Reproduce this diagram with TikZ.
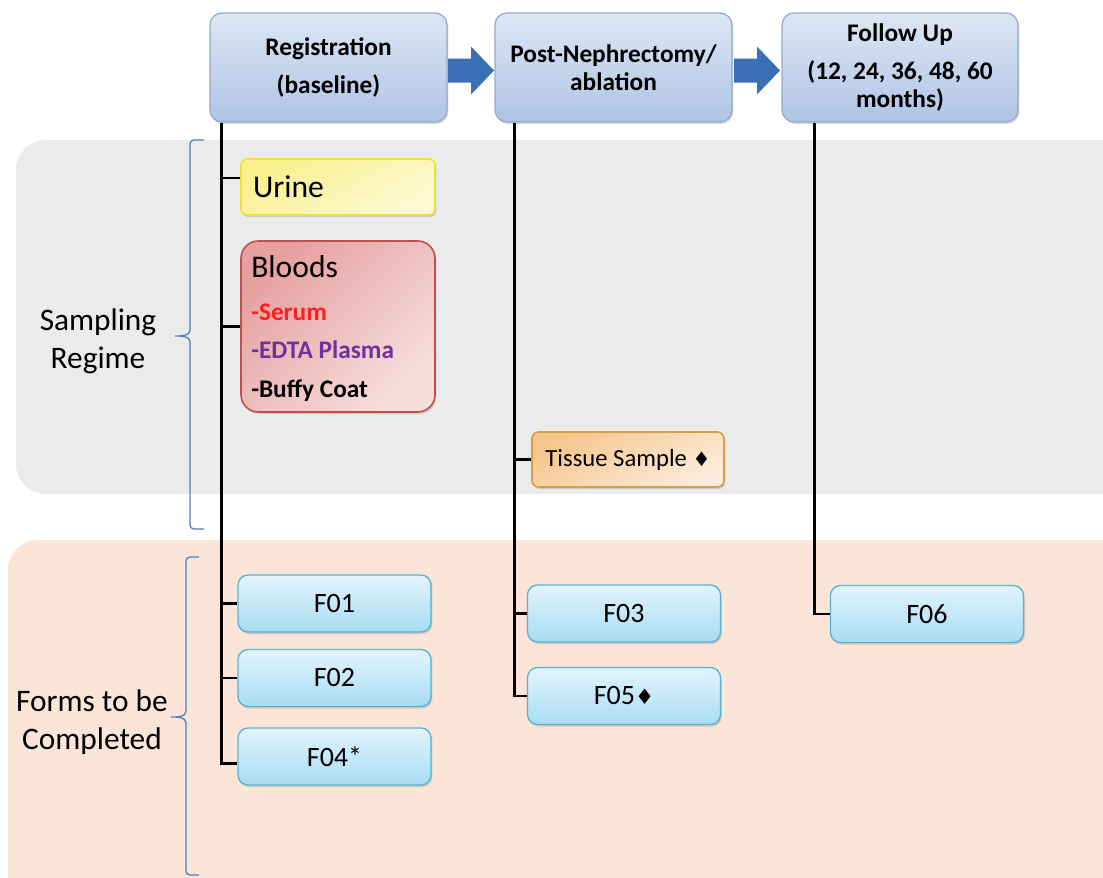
\documentclass[tikz,border=0pt]{standalone}
\usepackage{fontspec}
\setmainfont{Carlito}
\newfontfamily\symfont{DejaVu Sans}
\usetikzlibrary{calc,shadows}
\definecolor{bggray}{HTML}{EBEBEB}
\definecolor{bgpeach}{HTML}{FBE5D8}
\definecolor{hdA}{HTML}{DDE7F4}
\definecolor{hdB}{HTML}{AFC4E4}
\definecolor{hdline}{HTML}{95A8C8}
\definecolor{arrowA}{HTML}{3A6FB6}
\definecolor{urA}{HTML}{F9F08E}
\definecolor{urB}{HTML}{FCF9D2}
\definecolor{urline}{HTML}{F0E030}
\definecolor{blA}{HTML}{E7A0A0}
\definecolor{blB}{HTML}{F6DEDE}
\definecolor{blline}{HTML}{C0504D}
\definecolor{tsA}{HTML}{F6C68E}
\definecolor{tsB}{HTML}{FCEBDA}
\definecolor{tsline}{HTML}{D4A040}
\definecolor{fmA}{HTML}{E3F4FC}
\definecolor{fmB}{HTML}{A8DCF2}
\definecolor{fmline}{HTML}{5AB3CE}
\definecolor{serumred}{HTML}{FF1F1F}
\definecolor{edtapurple}{HTML}{7030A0}
\definecolor{bracecol}{HTML}{4F81BD}
\begin{document}
\begin{tikzpicture}[x=0.75pt,y=-0.75pt,
  shadow/.style={drop shadow={shadow xshift=1pt,shadow yshift=-1.5pt,opacity=.3}},
  header/.style={shadow,draw=hdline,line width=0.9pt,rounded corners=9pt,
    top color=hdA,bottom color=hdB,minimum width=237*0.75pt,minimum height=109*0.75pt,
    align=center,font=\bfseries\fontsize{19}{21}\selectfont},
  formbox/.style={shadow,draw=fmline,line width=1pt,rounded corners=7.5pt,
    top color=fmA,bottom color=fmB,minimum width=193*0.75pt,minimum height=57*0.75pt,
    font=\fontsize{21}{25}\selectfont},
  conn/.style={line width=2.2pt,black,line join=miter},
  blockarrow/.style={fill=arrowA},
  bracestyle/.style={draw=bracecol,line width=1pt},
  sidelabel/.style={align=center,font=\fontsize{23.5}{28.5}\selectfont},
  itemtext/.style={anchor=base west,inner sep=0pt,font=\bfseries\fontsize{19}{22}\selectfont}
]
\useasboundingbox (0,0) rectangle (1103,878);
% backgrounds
\fill[bggray,rounded corners=22.5pt] (16,140) rectangle (1150,494);
\fill[bgpeach,rounded corners=22.5pt] (8,540) rectangle (1150,930);

% header boxes
\node[header] (reg) at (328.5,67.5) {Registration\\[7.5pt](baseline)};
\node[header] (post) at (613.5,67.5) {Post-Nephrectomy/\\ablation};
\node[header,minimum width=236*0.75pt] (fol) at (900,67.5) {Follow Up\\[8pt](12, 24, 36, 48, 60\\months)};

% block arrows between header boxes
\foreach \a/\b in {reg/post,post/fol}{
  \coordinate (c) at ($(\a.east)!0.5!(\b.west)+(0,3)$);
  \fill[blockarrow] ($(c)+(-23,-12)$) -- ($(c)+(0,-12)$) -- ($(c)+(0,-24)$) -- ($(c)+(23,0)$)
    -- ($(c)+(0,24)$) -- ($(c)+(0,12)$) -- ($(c)+(-23,12)$) -- cycle;
}

% trunk coordinates
\coordinate (rv) at ($(reg.south west)+(12,0)$);
\coordinate (pv) at ($(post.south west)+(20,0)$);
\coordinate (fv) at ($(fol.south west)+(33,0)$);

% sample and form boxes
\node[shadow,draw=urline,line width=1.2pt,rounded corners=4pt,
  top color=urA,bottom color=urB,shading angle=30,
  minimum width=194*0.75pt,minimum height=56*0.75pt,text width=170*0.75pt,align=left,
  font=\fontsize{23.7}{28}\selectfont] (urine) at (338,187) {Urine};
\node[shadow,draw=blline,line width=1.2pt,rounded corners=13pt,
  top color=blA,bottom color=blB,shading angle=45,
  minimum width=194*0.75pt,minimum height=171*0.75pt] (bloods) at (338,326.5) {};
\node[anchor=base west,inner sep=0pt,font=\fontsize{23.7}{28}\selectfont] (bloodlab) at (251,277) {Bloods};
\node[itemtext,text=serumred] (serum) at (251,320) {-Serum};
\node[itemtext,text=edtapurple] (edta) at (251,358) {-EDTA Plasma};
\node[itemtext] (buffy) at (251,397) {-Buffy Coat};

\node[shadow,draw=tsline,line width=1.2pt,rounded corners=5pt,
  top color=tsA,bottom color=tsB,shading angle=30,
  minimum width=192*0.75pt,minimum height=55*0.75pt,
  font=\fontsize{18.5}{22}\selectfont] (tissue) at (628,459.5) {Tissue Sample {\symfont\fontsize{15}{18}\selectfont ♦}};

\node[formbox] (f01) at (334.5,603.5) {F01};
\node[formbox] (f02) at (334.5,678) {F02};
\node[formbox] (f04) at (334.5,756.5) {F04*};
\node[formbox] (f03) at (624,613.5) {F03};
\node[formbox] (f05) at (624,696) {F05{\symfont\fontsize{16}{18}\selectfont ♦}};
\node[formbox] (f06) at (927,614) {F06};

% connectors
\coordinate (f04c) at ([yshift=-5.5pt]f04.west);
\coordinate (urc) at ([yshift=6.75pt]urine.west);
\draw[conn] (rv) |- (f04c);
\draw[conn] (pv) |- (f05.west);
\draw[conn] (fv) |- (f06.west);
\draw[conn] (rv |- urc) -- (urc);
\draw[conn] (rv |- bloods.west) -- (bloods.west);
\draw[conn] (rv |- f01.west) -- (f01.west);
\draw[conn] (rv |- f02.west) -- (f02.west);
\draw[conn] (pv |- tissue.west) -- (tissue.west);
\draw[conn] (pv |- f03.west) -- (f03.west);

% braces
\draw[bracestyle] (204,140) -- (194,140) to[out=180,in=90] (190,144) -- (190,330)
  to[out=-90,in=0] (175,336) to[out=0,in=90] (190,342) -- (190,525)
  to[out=-90,in=180] (194,529) -- (204,529);
\draw[bracestyle] (199,557) -- (190,557) to[out=180,in=90] (186,561) -- (186,711)
  to[out=-90,in=0] (171,717) to[out=0,in=90] (186,723) -- (186,871)
  to[out=-90,in=180] (190,875) -- (199,875);

% side labels
\node[sidelabel] (samp) at (98,341) {Sampling\\Regime};
\node[sidelabel] (forms) at (92,722) {Forms to be\\Completed};
\end{tikzpicture}
\end{document}
